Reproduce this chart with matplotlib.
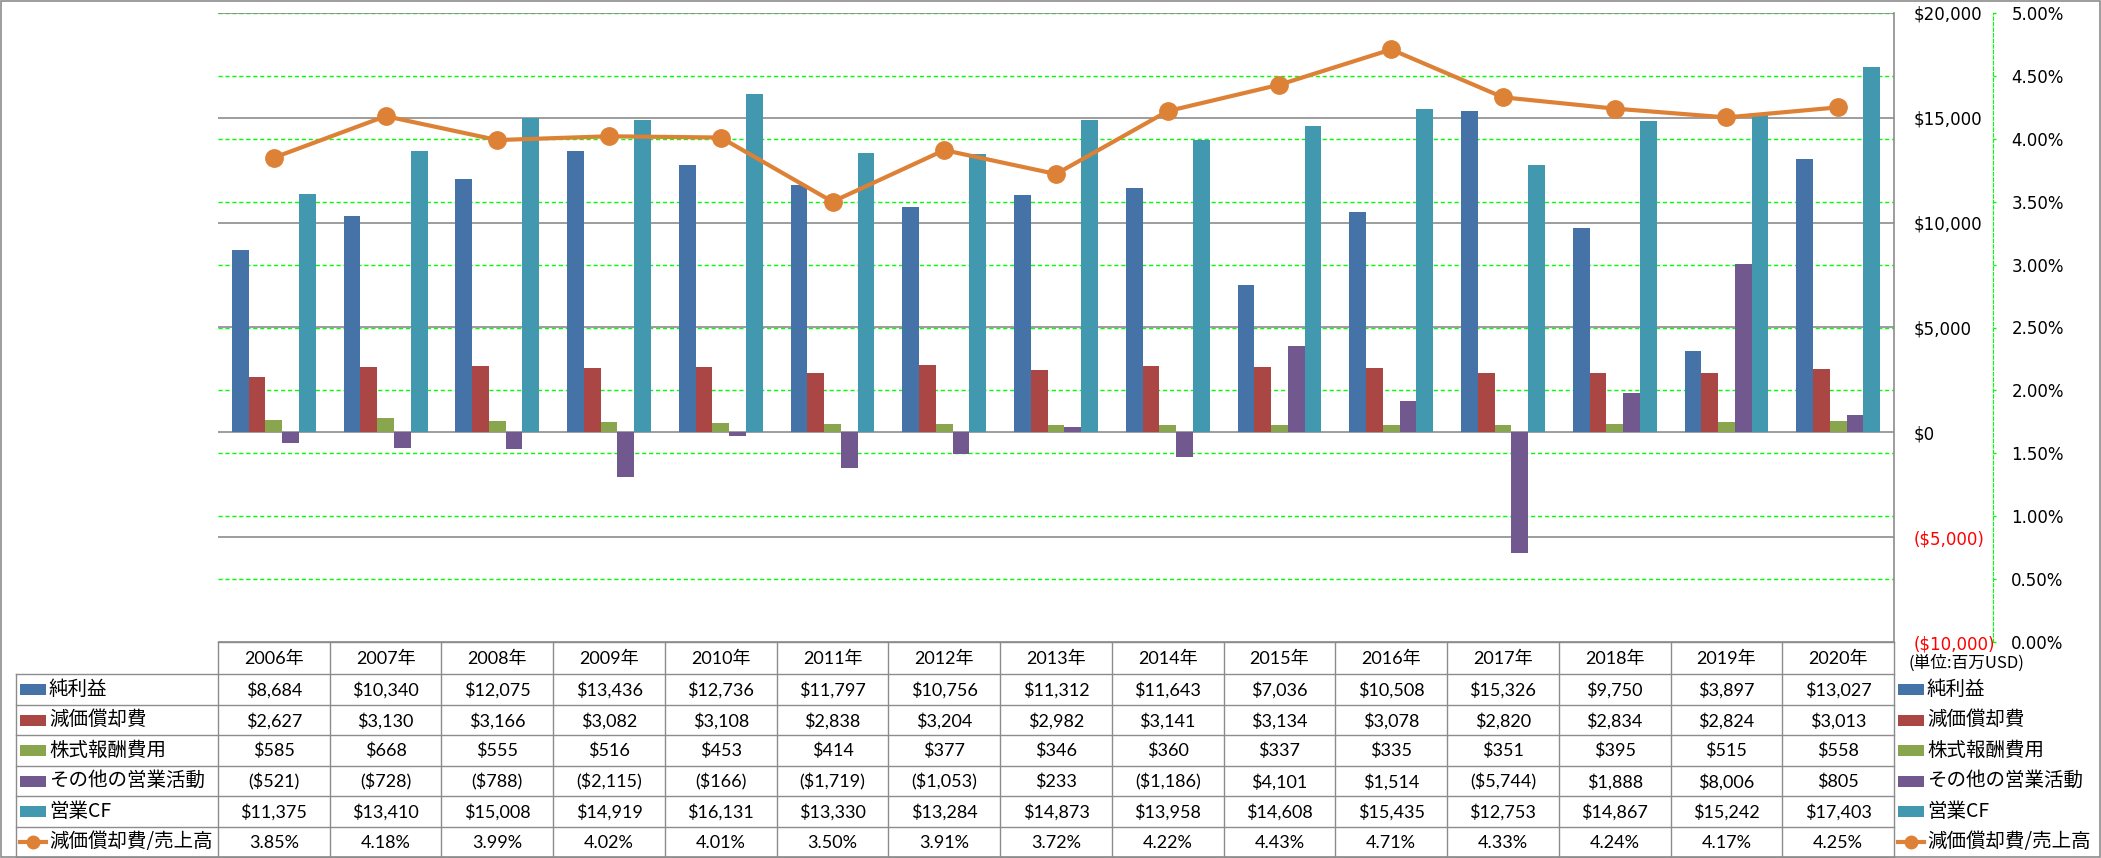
import matplotlib.pyplot as plt
from matplotlib.patches import Rectangle
import numpy as np

years = ['2006年', '2007年', '2008年', '2009年', '2010年', '2011年', '2012年', '2013年',
         '2014年', '2015年', '2016年', '2017年', '2018年', '2019年', '2020年']
net_income = [8684, 10340, 12075, 13436, 12736, 11797, 10756, 11312, 11643, 7036, 10508, 15326, 9750, 3897, 13027]
depreciation = [2627, 3130, 3166, 3082, 3108, 2838, 3204, 2982, 3141, 3134, 3078, 2820, 2834, 2824, 3013]
stock_comp = [585, 668, 555, 516, 453, 414, 377, 346, 360, 337, 335, 351, 395, 515, 558]
other_ops = [-521, -728, -788, -2115, -166, -1719, -1053, 233, -1186, 4101, 1514, -5744, 1888, 8006, 805]
operating_cf = [11375, 13410, 15008, 14919, 16131, 13330, 13284, 14873, 13958, 14608, 15435, 12753, 14867, 15242, 17403]
dep_ratio = [3.85, 4.18, 3.99, 4.02, 4.01, 3.50, 3.91, 3.72, 4.22, 4.43, 4.71, 4.33, 4.24, 4.17, 4.25]

bar_names = ['純利益', '減価償却費', '株式報酬費用', 'その他の営業活動', '営業CF']
bar_colors = ['#4572A7', '#AA4643', '#89A54E', '#71588F', '#4198AF']
line_name = '減価償却費/売上高'
line_color = '#DD8137'

usd_ticks = [-10000, -5000, 0, 5000, 10000, 15000, 20000]
pct_ticks = [0, 0.5, 1.0, 1.5, 2.0, 2.5, 3.0, 3.5, 4.0, 4.5, 5.0]

GRAY = '#8C8C8C'
GREEN = '#00FF00'
CJK = ['Noto Sans CJK JP', 'DejaVu Sans']
NUM = ['Lato', 'Noto Sans CJK JP']


def usd(v):
    return f'${v:,}' if v >= 0 else f'(${-v:,})'


W, H = 2101, 858
fig = plt.figure(figsize=(W / 100, H / 100), dpi=100)

# plot area in pixels
px_l, px_r, px_t, px_b = 218, 1894, 13, 642
rect = [px_l / W, 1 - px_b / H, (px_r - px_l) / W, (px_b - px_t) / H]

# percent axis (behind): green dashed grid + outer spine
ax2 = fig.add_axes(rect)
ax2.set_xlim(-0.5, len(years) - 0.5)
ax2.set_ylim(0, 5)
ax2.yaxis.tick_right()
ax2.set_yticks(pct_ticks, [f'{t:.2f}%' for t in pct_ticks])
ax2.yaxis.grid(True, color=GREEN, lw=1, linestyle=(0, (3, 2)))
ax2.set_xticks([])
for s in ['left', 'top', 'bottom']:
    ax2.spines[s].set_visible(False)
ax2.spines['right'].set_position(('outward', 71))
ax2.spines['right'].set_color(GREEN)
ax2.spines['right'].set_linestyle((0, (3, 2)))
ax2.tick_params(axis='y', colors=GREEN, length=2.5, width=1, pad=11,
                labelcolor='black', labelsize=12)

# bars (middle)
ax = fig.add_axes(rect)
ax.patch.set_visible(False)
x = np.arange(len(years))
bw = 0.15
series = [net_income, depreciation, stock_comp, other_ops, operating_cf]
for k, (vals, col) in enumerate(zip(series, bar_colors)):
    ax.bar(x + (k - 2) * bw, vals, width=bw, color=col, zorder=2)
ax.set_xlim(-0.5, len(years) - 0.5)
ax.set_ylim(-10000, 20000)
ax.yaxis.tick_right()
ax.set_yticks(usd_ticks, [usd(t) for t in usd_ticks])
ax.tick_params(axis='y', length=0, pad=14, labelsize=12)
for lab, t in zip(ax.get_yticklabels(), usd_ticks):
    if t < 0:
        lab.set_color('#FF0000')
ax.set_xticks([])
ax.set_axisbelow(True)
ax.yaxis.grid(True, color=GRAY, lw=1.2)
for s in ['left', 'top', 'bottom']:
    ax.spines[s].set_visible(False)
ax.spines['right'].set_color(GRAY)
ax.spines['right'].set_linewidth(1.2)

# line (top)
ax3 = fig.add_axes(rect)
ax3.set_xlim(-0.5, len(years) - 0.5)
ax3.set_ylim(0, 5)
ax3.plot(x, dep_ratio, color=line_color, lw=3, marker='o', markersize=12.5, zorder=5)
ax3.axis('off')

# data table drawn on a pixel-based overlay
tab = fig.add_axes([0, 0, 1, 1])
tab.set_xlim(0, W)
tab.set_ylim(H, 0)
tab.axis('off')
tab.add_patch(Rectangle((0.5, 0.5), W - 1.5, H - 1.5, fill=False, ec=GRAY, lw=1.2))

edges = [ax.transData.transform((i - 0.5, 0))[0] for i in range(len(years) + 1)]
head_top, head_bot = px_b, 674
row_h = (H - 1 - head_bot) / 6
row_tops = [head_bot + r * row_h for r in range(7)]
tl, kx0, kx1 = 16, 20, 46

tab.plot([edges[0], edges[-1]], [head_top, head_top], color=GRAY, lw=1)
for yy in row_tops:
    tab.plot([tl, edges[-1]], [yy, yy], color=GRAY, lw=1)
for xx in edges:
    tab.plot([xx, xx], [head_top, row_tops[-1]], color=GRAY, lw=1)
tab.plot([tl, tl], [head_bot, row_tops[-1]], color=GRAY, lw=1)

for i, yr in enumerate(years):
    cx = (edges[i] + edges[i + 1]) / 2
    tab.text(cx, (head_top + head_bot) / 2 + 1, yr, ha='center', va='center', fontsize=13, family=NUM)

rows = [[usd(v) for v in s] for s in series] + [[f'{v:.2f}%' for v in dep_ratio]]
names = bar_names + [line_name]
colors = bar_colors + [line_color]
rx0, rx1 = 1898, 1924
for r, (name, vals, col) in enumerate(zip(names, rows, colors)):
    cy = (row_tops[r] + row_tops[r + 1]) / 2
    for i, v in enumerate(vals):
        cx = (edges[i] + edges[i + 1]) / 2
        tab.text(cx, cy + 1, v, ha='center', va='center', fontsize=13, family=NUM)
    for a, b in [(kx0, kx1), (rx0, rx1)]:
        if r < 5:
            tab.add_patch(Rectangle((a, cy - 5), b - a, 11, color=col, lw=0))
        else:
            tab.plot([a, b], [cy, cy], color=col, lw=3)
            tab.plot([(a + b) / 2], [cy], 'o', color=col, markersize=9)
        tab.text(b + 3, cy, name, ha='left', va='center', fontsize=14, family=CJK)

tab.text(1909, 663, '(単位:百万USD)', ha='left', va='center', fontsize=12, family=CJK)

fig.savefig('out.png', dpi=100)
